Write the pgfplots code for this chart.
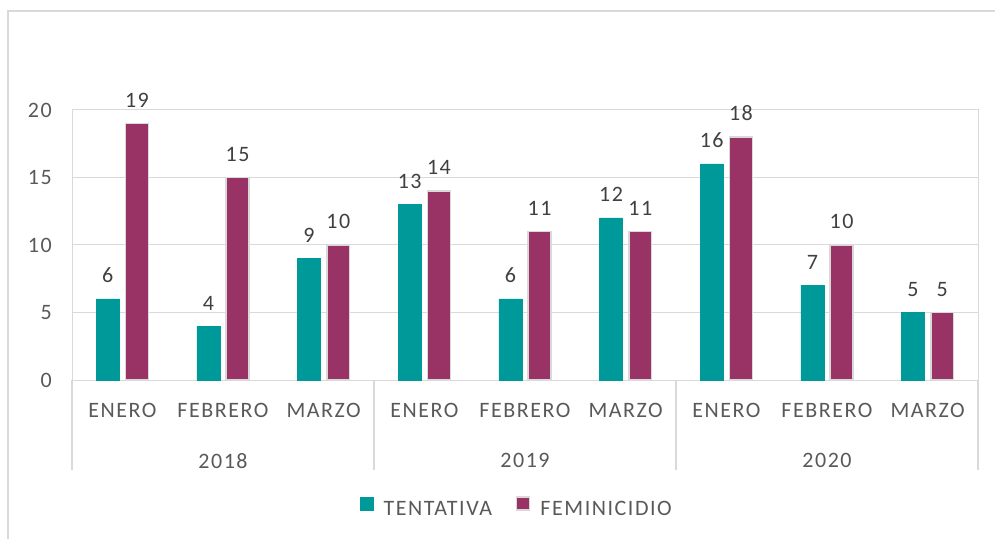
\documentclass[border=0pt]{standalone}
\usepackage{fontspec}
\setmainfont{Carlito}[LetterSpace=7]
\usepackage{pgfplots}
\pgfplotsset{compat=1.18}
\definecolor{tent}{HTML}{009999}
\definecolor{femi}{HTML}{993366}
\definecolor{gridc}{HTML}{D9D9D9}
\definecolor{labc}{HTML}{595959}
\definecolor{datc}{HTML}{404040}
\newcommand{\lblfont}{\fontsize{16.5}{19}\selectfont}
\begin{document}
\begin{tikzpicture}
\useasboundingbox (0pt,0pt) rectangle (746.25pt,404.25pt);
% chart area border (only left and top are visible in the crop)
\draw[gridc, line width=1.1pt] (6pt,0pt) -- (6pt,396pt) -- (746.25pt,396pt);
\begin{axis}[
  at={(54pt,119.25pt)}, anchor=south west,
  scale only axis,
  width=679.5pt, height=202.5pt,
  xmin=-0.5, xmax=8.5,
  ymin=0, ymax=20,
  ybar=4.7pt, bar width=17.2pt,
  xtick={0,...,8},
  xticklabels={ENERO,FEBRERO,MARZO,ENERO,FEBRERO,MARZO,ENERO,FEBRERO,MARZO},
  ytick={0,5,10,15,20},
  /pgf/number format/assume math mode=true,
  major tick length=0pt,
  ymajorgrids,
  grid style={gridc, line width=0.75pt},
  axis line style={gridc, line width=0.75pt},
  tick label style={font=\lblfont, text=labc, inner sep=0pt},
  xticklabel style={anchor=north, yshift=-17pt},
  yticklabel style={anchor=east, xshift=-15pt},
  clip=false,
  nodes near coords,
  every node near coord/.append style={font=\lblfont, text=datc, anchor=base, inner sep=0pt, yshift=12pt},
  legend image code/.code={\draw[#1] (0pt,-0.5pt) rectangle (9.75pt,9.25pt);},
  legend style={draw=none, fill=none, font=\lblfont, text=labc,
    at={(0.4915,-0.474)}, anchor=center, legend columns=2,
    /tikz/every odd column/.append style={column sep=5.5pt},
    /tikz/every even column/.append style={column sep=16pt}},
]
\addplot[fill=tent, draw=tent, line width=0.3pt]
  coordinates {(0,6) (1,4) (2,9) (3,13) (4,6) (5,12) (6,16) (7,7) (8,5)};
\addplot[fill=femi, draw=gridc, line width=1.1pt]
  coordinates {(0,19) (1,15) (2,10) (3,14) (4,11) (5,11) (6,18) (7,10) (8,5)};
\legend{TENTATIVA,FEMINICIDIO}
% group separators and year labels of the second category level
\pgfplotsinvokeforeach{-0.5,2.5,5.5,8.5}{
  \draw[gridc, line width=1.1pt] (axis cs:#1,0) -- ++(0pt,-67.5pt);
}
\node[font=\lblfont, text=labc, anchor=north, inner sep=0pt, yshift=-54.75pt] at (axis cs:1,0) {2018};
\node[font=\lblfont, text=labc, anchor=north, inner sep=0pt, yshift=-54.75pt] at (axis cs:4,0) {2019};
\node[font=\lblfont, text=labc, anchor=north, inner sep=0pt, yshift=-54.75pt] at (axis cs:7,0) {2020};
\end{axis}
\end{tikzpicture}
\end{document}
